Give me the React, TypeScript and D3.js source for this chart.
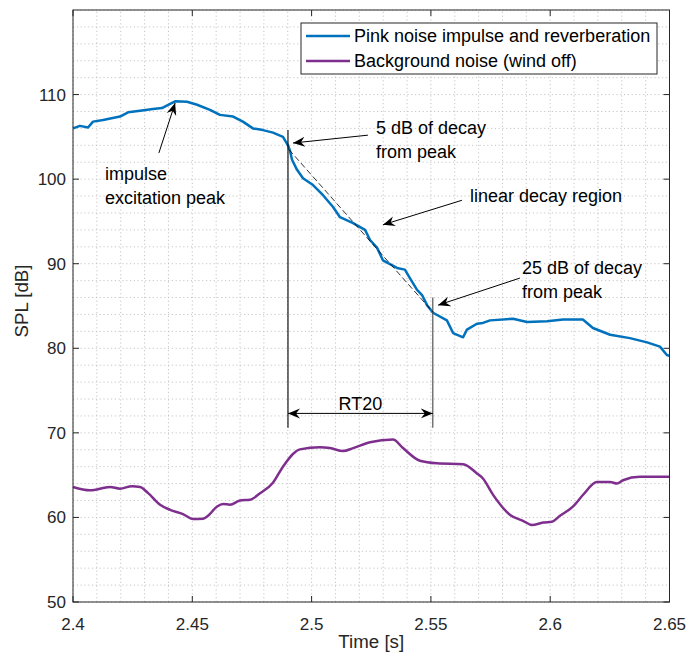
import React, { useEffect, useRef } from 'react';
import * as d3 from 'd3';

// Pink noise impulse + reverberation (time [s], SPL [dB])
const pinkT = [2.4, 2.4029, 2.4063, 2.4084, 2.4126, 2.4197, 2.4231, 2.4281, 2.4335, 2.4373, 2.4407, 2.4428, 2.4478, 2.452, 2.4574, 2.4616, 2.4671, 2.4712, 2.4754, 2.4796, 2.4838, 2.488, 2.4901, 2.4909, 2.4918, 2.4939, 2.4964, 2.5006, 2.5048, 2.509, 2.5119, 2.5174, 2.5224, 2.5245, 2.5274, 2.5299, 2.5358, 2.5391, 2.5412, 2.5442, 2.5463, 2.5484, 2.5509, 2.5567, 2.5593, 2.5635, 2.5651, 2.5693, 2.5718, 2.5748, 2.5844, 2.5903, 2.5987, 2.6054, 2.6137, 2.6179, 2.6251, 2.6334, 2.6406, 2.646, 2.6489, 2.65];
const pinkDb = [106.0, 106.3, 106.1, 106.8, 107.0, 107.4, 107.9, 108.1, 108.3, 108.4, 108.9, 109.2, 109.15, 108.8, 108.2, 107.6, 107.4, 106.8, 106.0, 105.8, 105.5, 105.0, 104.0, 103.4, 102.3, 101.1, 100.1, 99.3, 98.1, 96.7, 95.5, 94.8, 94.0, 92.8, 91.9, 90.4, 89.5, 89.3, 88.3, 86.9, 86.3, 85.1, 84.2, 83.3, 81.8, 81.3, 82.2, 82.9, 83.0, 83.3, 83.5, 83.1, 83.2, 83.4, 83.4, 82.4, 81.6, 81.2, 80.7, 80.2, 79.2, 79.1];

// Background noise (wind off)
const bgT = [2.4, 2.4071, 2.4155, 2.4197, 2.4247, 2.4281, 2.4314, 2.4365, 2.4407, 2.4461, 2.4503, 2.4545, 2.4566, 2.4604, 2.4629, 2.4658, 2.47, 2.4742, 2.4784, 2.4838, 2.488, 2.4951, 2.5035, 2.5077, 2.5132, 2.5174, 2.5245, 2.5341, 2.5383, 2.5454, 2.5526, 2.5635, 2.5693, 2.5718, 2.576, 2.5832, 2.5886, 2.5924, 2.597, 2.6007, 2.6041, 2.6096, 2.6137, 2.6196, 2.6251, 2.628, 2.6305, 2.6376, 2.6431, 2.65];
const bgDb = [63.6, 63.2, 63.6, 63.4, 63.7, 63.6, 62.9, 61.5, 60.9, 60.4, 59.8, 59.85, 60.2, 61.3, 61.6, 61.5, 62.0, 62.1, 62.85, 64.1, 66.0, 68.05, 68.3, 68.2, 67.85, 68.2, 68.9, 69.2, 68.2, 66.7, 66.4, 66.3, 65.2, 64.6, 62.7, 60.3, 59.6, 59.1, 59.4, 59.5, 60.2, 61.3, 62.65, 64.2, 64.2, 64.0, 64.4, 64.8, 64.8, 64.8];

const xTicks = [2.4, 2.45, 2.5, 2.55, 2.6, 2.65];
const xTickLabels = ['2.4', '2.45', '2.5', '2.55', '2.6', '2.65'];
const yTicks = [50, 60, 70, 80, 90, 100, 110];

const seriesNames = ['Pink noise impulse and reverberation', 'Background noise (wind off)'];
const seriesColors = ['#0072BD', '#7E2F8E'];

// annotation arrows: [fromT, fromDb, toT, toDb]
const arrows = [
  [2.436, 103.1, 2.4428, 109.0],
  [2.5236, 105.2, 2.4922, 104.27],
  [2.563, 97.5, 2.5299, 94.6],
  [2.5873, 88.3, 2.553, 85.1],
];
// annotation texts: [t, dB, lines]
const notes: [number, number, string[]][] = [
  [2.4134, 100.7, ['impulse', 'excitation peak']],
  [2.527, 106.05, ['5 dB of decay', 'from peak']],
  [2.5664, 98.0, ['linear decay region']],
  [2.5882, 89.5, ['25 dB of decay', 'from peak']],
];
const t5 = 2.4901, t25 = 2.5508;
const decayFit = [[2.4905, 103.5], [2.5508, 84.3]];

const FONT = '"Liberation Sans", Arial, Helvetica, sans-serif';

const App: React.FC = () => {
  const svgRef = useRef<SVGSVGElement>(null);

  useEffect(() => {
    if (!svgRef.current) return;
    const svg = d3.select(svgRef.current);
    svg.selectAll('*').remove();

    const x = d3.scaleLinear().domain([2.4, 2.65]).range([73, 669.5]);
    const y = d3.scaleLinear().domain([50, 120]).range([602, 10]);
    const [x0, x1] = x.range();
    const [y0, y1] = y.range();

    const defs = svg.append('defs');
    defs.append('marker')
      .attr('id', 'head')
      .attr('markerUnits', 'userSpaceOnUse')
      .attr('viewBox', '-12 -6 13 12')
      .attr('refX', 0).attr('refY', 0)
      .attr('markerWidth', 13).attr('markerHeight', 12)
      .attr('orient', 'auto-start-reverse')
      .append('path')
      .attr('d', 'M0,0 L-12,-5 L-8,0 L-12,5 Z')
      .attr('fill', '#000');

    // grid
    const grid = svg.append('g').attr('stroke', '#b8b8b8').attr('stroke-width', 0.8).attr('stroke-dasharray', '1.2 2.6');
    d3.range(2.4, 2.6501, 0.01).forEach(t => {
      grid.append('line').attr('x1', x(t)).attr('x2', x(t)).attr('y1', y0).attr('y2', y1);
    });
    d3.range(50, 120.01, 2).forEach(v => {
      grid.append('line').attr('x1', x0).attr('x2', x1).attr('y1', y(v)).attr('y2', y(v));
    });

    // annotations: vertical markers, fit line, RT20
    const ann = svg.append('g');
    ann.append('line').attr('x1', x(t5)).attr('x2', x(t5)).attr('y1', y(105.8)).attr('y2', y(70.6)).attr('stroke', '#000').attr('stroke-width', 1.1);
    ann.append('line').attr('x1', x(t25)).attr('x2', x(t25)).attr('y1', y(86)).attr('y2', y(70.6)).attr('stroke', '#444').attr('stroke-width', 1.1);
    ann.append('line')
      .attr('x1', x(decayFit[0][0])).attr('y1', y(decayFit[0][1]))
      .attr('x2', x(decayFit[1][0])).attr('y2', y(decayFit[1][1]))
      .attr('stroke', '#000').attr('stroke-width', 0.8).attr('stroke-dasharray', '6 3');

    // series
    const pinkLine = d3.line<number>().x((_, i) => x(pinkT[i])).y(d => y(d));
    svg.append('path').datum(pinkDb).attr('fill', 'none').attr('stroke', seriesColors[0])
      .attr('stroke-width', 2.5).attr('stroke-linejoin', 'round').attr('d', pinkLine);
    const bgLine = d3.line<number>().x((_, i) => x(bgT[i])).y(d => y(d)).curve(d3.curveMonotoneX);
    svg.append('path').datum(bgDb).attr('fill', 'none').attr('stroke', seriesColors[1])
      .attr('stroke-width', 2.5).attr('stroke-linejoin', 'round').attr('d', bgLine);

    ann.raise();

    svg.append('line').attr('x1', x(t5)).attr('x2', x(t25)).attr('y1', y(72.3)).attr('y2', y(72.3))
      .attr('stroke', '#000').attr('stroke-width', 1)
      .attr('marker-start', 'url(#head)').attr('marker-end', 'url(#head)');
    svg.append('text').attr('x', x((t5 + t25) / 2)).attr('y', y(73.5)).attr('dy', '0.35em')
      .attr('text-anchor', 'middle').attr('font-family', FONT).attr('font-size', 18).attr('fill', '#000').text('RT20');

    arrows.forEach(([ft, fd, tt, td]) => {
      svg.append('line').attr('x1', x(ft)).attr('y1', y(fd)).attr('x2', x(tt)).attr('y2', y(td))
        .attr('stroke', '#000').attr('stroke-width', 1).attr('marker-end', 'url(#head)');
    });
    notes.forEach(([t, v, lines]) => {
      lines.forEach((s, i) => {
        svg.append('text').attr('x', x(t)).attr('y', y(v) + i * 24).attr('dy', '0.35em')
          .attr('font-family', FONT).attr('font-size', 18).attr('fill', '#000').text(s);
      });
    });

    // axes box and ticks
    const ax = svg.append('g').attr('stroke', '#262626').attr('stroke-width', 1);
    ax.append('rect').attr('x', x0).attr('y', y1).attr('width', x1 - x0).attr('height', y0 - y1).attr('fill', 'none');
    xTicks.forEach(t => {
      ax.append('line').attr('x1', x(t)).attr('x2', x(t)).attr('y1', y0).attr('y2', y0 - 6);
      ax.append('line').attr('x1', x(t)).attr('x2', x(t)).attr('y1', y1).attr('y2', y1 + 6);
    });
    yTicks.forEach(v => {
      ax.append('line').attr('x1', x0).attr('x2', x0 + 6).attr('y1', y(v)).attr('y2', y(v));
      ax.append('line').attr('x1', x1).attr('x2', x1 - 6).attr('y1', y(v)).attr('y2', y(v));
    });

    const labels = svg.append('g').attr('font-family', FONT).attr('fill', '#262626');
    xTicks.forEach((t, i) => {
      labels.append('text').attr('x', x(t)).attr('y', y0 + 22).attr('dy', '0.35em').attr('text-anchor', 'middle')
        .attr('font-size', 17).text(xTickLabels[i]);
    });
    yTicks.forEach(v => {
      labels.append('text').attr('x', x0 - 7).attr('y', y(v)).attr('dy', '0.35em').attr('text-anchor', 'end')
        .attr('font-size', 17).text(String(v));
    });
    labels.append('text').attr('x', (x0 + x1) / 2).attr('y', 641).attr('dy', '0.35em').attr('text-anchor', 'middle')
      .attr('font-size', 18.7).text('Time [s]');
    labels.append('text').attr('transform', `translate(21, ${(y0 + y1) / 2 - 5}) rotate(-90)`).attr('dy', '0.35em')
      .attr('text-anchor', 'middle').attr('font-size', 18.7).text('SPL [dB]');

    // legend
    const lg = svg.append('g');
    lg.append('rect').attr('x', 301).attr('y', 23).attr('width', 356).attr('height', 51)
      .attr('fill', '#fff').attr('stroke', '#262626').attr('stroke-width', 1);
    seriesNames.forEach((name, i) => {
      const ly = 36 + i * 25;
      lg.append('line').attr('x1', 306).attr('x2', 350).attr('y1', ly).attr('y2', ly)
        .attr('stroke', seriesColors[i]).attr('stroke-width', 2.5);
      lg.append('text').attr('x', 354).attr('y', ly).attr('dy', '0.35em').attr('font-family', FONT)
        .attr('font-size', 18).attr('fill', '#000').text(name);
    });
  }, []);

  return (
    <div style={{ position: 'absolute', left: 0, top: 0 }}>
      <svg ref={svgRef} width={687} height={659} style={{ display: 'block', background: '#fff' }} />
    </div>
  );
};

export default App;
